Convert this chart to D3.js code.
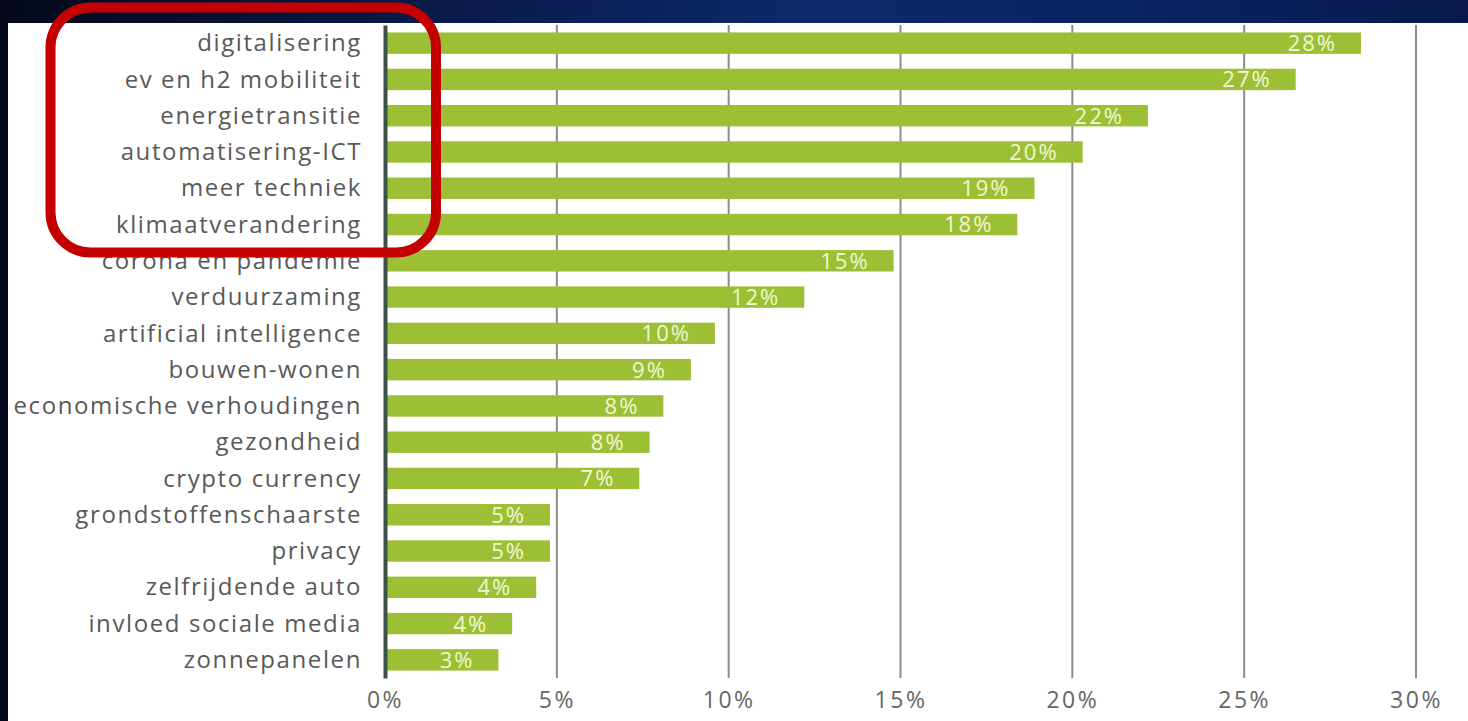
<!DOCTYPE html>
<html>
<head>
<meta charset="utf-8">
<script src="https://cdn.jsdelivr.net/npm/d3@7/dist/d3.min.js"></script>
<style>
  html, body { margin: 0; padding: 0; background: #ffffff; }
  svg { display: block; }
</style>
</head>
<body>
<svg id="chart" width="1468" height="721"></svg>
<script>
// Trends named in the survey, share of respondents (%)
const categories = [
  "digitalisering",
  "ev en h2 mobiliteit",
  "energietransitie",
  "automatisering-ICT",
  "meer techniek",
  "klimaatverandering",
  "corona en pandemie",
  "verduurzaming",
  "artificial intelligence",
  "bouwen-wonen",
  "economische verhoudingen",
  "gezondheid",
  "crypto currency",
  "grondstoffenschaarste",
  "privacy",
  "zelfrijdende auto",
  "invloed sociale media",
  "zonnepanelen"
];
const values = [28.4, 26.5, 22.2, 20.3, 18.9, 18.4, 14.8, 12.2, 9.6, 8.9, 8.1, 7.7, 7.4, 4.8, 4.8, 4.4, 3.7, 3.3];
const xTicks = [0, 5, 10, 15, 20, 25, 30];

const svg = d3.select("#chart");
const W = 1468, H = 721;

// Backdrop: dark starry band along the top and left edge, white chart panel
const defs = svg.append("defs");
const grad = defs.append("linearGradient").attr("id", "sky").attr("x1", "0").attr("x2", "1").attr("y1", "0").attr("y2", "0");
grad.append("stop").attr("offset", "0%").attr("stop-color", "#05081c");
grad.append("stop").attr("offset", "30%").attr("stop-color", "#0a1a4a");
grad.append("stop").attr("offset", "55%").attr("stop-color", "#0c2a6a");
grad.append("stop").attr("offset", "80%").attr("stop-color", "#0a2360");
grad.append("stop").attr("offset", "100%").attr("stop-color", "#081a4c");
svg.append("rect").attr("width", W).attr("height", H).attr("fill", "url(#sky)");
svg.append("rect").attr("x", 8).attr("y", 23).attr("width", W - 8).attr("height", H - 23).attr("fill", "#ffffff");

const x = d3.scaleLinear().domain([0, 30]).range([385, 1416]);
const y = d3.scaleBand().domain(categories).range([25, 678]).paddingInner(0.41).paddingOuter(0.205);

const fontFamily = "'Open Sans', 'DejaVu Sans', sans-serif";

// Vertical gridlines
svg.append("g")
  .selectAll("line")
  .data(xTicks.filter(d => d > 0))
  .join("line")
  .attr("x1", d => x(d)).attr("x2", d => x(d))
  .attr("y1", 25).attr("y2", 678)
  .attr("stroke", "#8c8c8c")
  .attr("stroke-width", 2);

// Bars
svg.append("g")
  .selectAll("rect")
  .data(values)
  .join("rect")
  .attr("x", x(0) + 2)
  .attr("y", (d, i) => y(categories[i]))
  .attr("width", d => x(d) - x(0) - 2)
  .attr("height", y.bandwidth())
  .attr("fill", "#9dbf36");

// Value labels inside the bars
const fmt = d => d3.format(".0f")(d) + "%";
svg.append("g")
  .selectAll("text")
  .data(values)
  .join("text")
  .attr("x", d => x(d) - 24)
  .attr("y", (d, i) => y(categories[i]) + y.bandwidth() / 2)
  .attr("dy", "0.36em")
  .attr("text-anchor", "end")
  .attr("font-family", fontFamily)
  .attr("font-size", 22)
  .attr("letter-spacing", 2)
  .attr("fill", "#f1f7d2")
  .text(fmt);

// Category axis
const yAxis = d3.axisLeft(y).tickSize(0).tickPadding(23);
const gy = svg.append("g").attr("transform", `translate(${x(0)},0)`).call(yAxis);
gy.select(".domain").attr("stroke", "#3c5249").attr("stroke-width", 4);
gy.selectAll("text")
  .attr("font-family", fontFamily)
  .attr("font-size", 24)
  .attr("letter-spacing", 1.6)
  .attr("fill", "#595959")
  .attr("dy", "0.34em");

// Percentage axis
const xAxis = d3.axisBottom(x).tickValues(xTicks).tickSize(0).tickPadding(14).tickFormat(d => d + "%");
const gx = svg.append("g").attr("transform", "translate(0,678)").call(xAxis);
gx.select(".domain").remove();
gx.selectAll("text")
  .attr("font-family", fontFamily)
  .attr("font-size", 23)
  .attr("letter-spacing", 2.5)
  .attr("fill", "#666666");

// Highlight frame around the top six trends
svg.append("rect")
  .attr("x", 50.5).attr("y", 7.5)
  .attr("width", 436 - 50.5).attr("height", 252.5 - 7.5)
  .attr("rx", 40).attr("ry", 40)
  .attr("fill", "none")
  .attr("stroke", "#c40000")
  .attr("stroke-width", 10);
</script>
</body>
</html>
